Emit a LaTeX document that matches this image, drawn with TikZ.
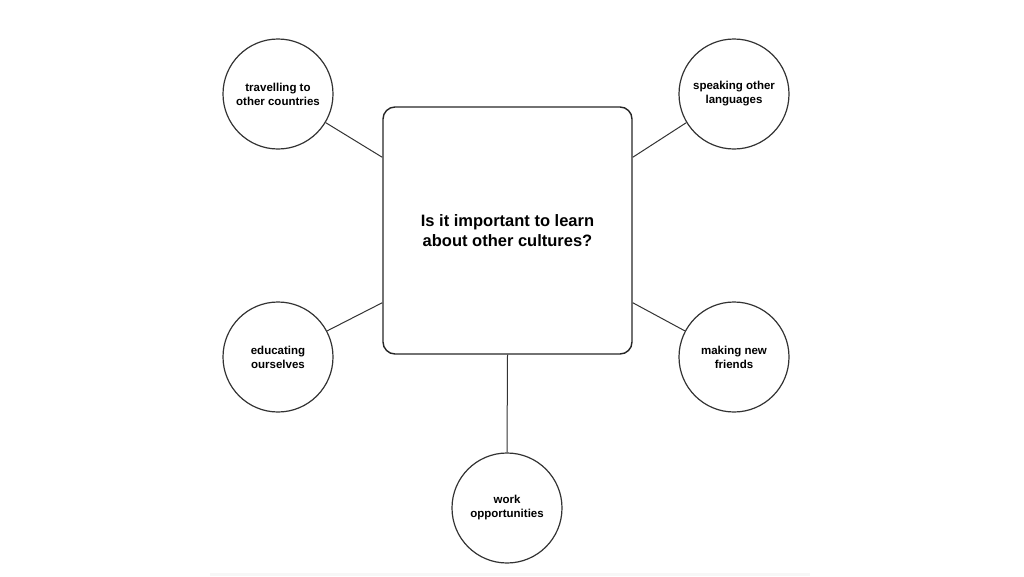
\documentclass[tikz,border=0pt]{standalone}
\usepackage{fontspec}
\setmainfont{Liberation Sans}
\usetikzlibrary{positioning, calc}
\tikzset{
    topic/.style={
        circle,
        draw=black!80,
        line width=1.2pt,
        minimum size=110pt,
        align=center,
        font=\fontsize{11.5}{14}\selectfont\bfseries
    },
    question/.style={
        rectangle,
        draw=black!85,
        line width=1.4pt,
        rounded corners=12pt,
        minimum width=249pt,
        minimum height=247pt,
        align=center,
        font=\fontsize{16.5}{20}\selectfont\bfseries
    },
    link/.style={
        draw=black!80,
        line width=1pt
    }
}
\begin{document}
\begin{tikzpicture}[x=1pt,y=-1pt]
\useasboundingbox (0,0) rectangle (1024,576);
\fill[black!3] (210,573) rectangle (810,576);

% Central question
\node[question] (q) at (507.5,230.5) {Is it important to learn\\about other cultures?};

% Topics
\node[topic] (travel) at (278,94) {travelling to\\other countries};
\node[topic] (speak) at (734,94) {speaking other\\languages};
\node[topic] (educ) at (278,357) {educating\\ourselves};
\node[topic] (friends) at (734,357) {making new\\friends};
\node[topic] (work) at (507,508) {work\\opportunities};

\draw[link] (travel.-31) -- ($(q.north west)+(0,51)$);
\draw[link] (speak.211) -- ($(q.north east)+(0,51)$);
\draw[link] (educ.28) -- ($(q.south west)+(0,-52)$);
\draw[link] (friends.152) -- ($(q.south east)+(0,-52)$);
\draw[link] (q.south) -- (work.north);
\end{tikzpicture}
\end{document}
